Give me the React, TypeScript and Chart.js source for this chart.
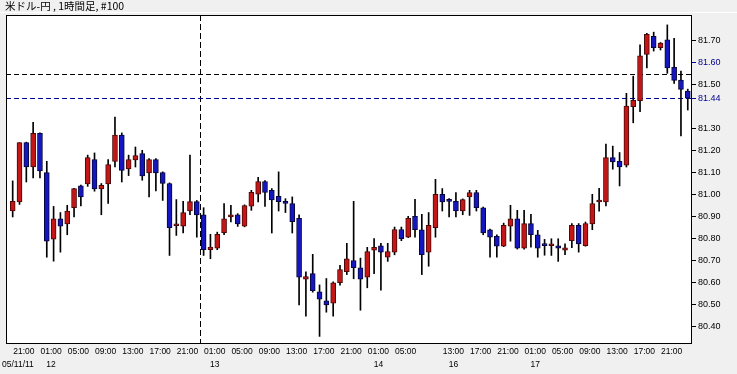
import React, { useEffect, useRef } from "react";
import { Chart, registerables } from "chart.js";

Chart.register(...registerables);

const title = "米ドル-円 , 1時間足, #100";
const startDateLabel = "05/11/11";

const opens = [
  80.927, 80.968, 81.238, 81.127, 81.28, 81.102, 80.799, 80.892, 80.868, 80.942,
  81.041, 81.05, 81.161, 81.027, 81.05, 81.152, 81.272, 81.118, 81.159, 81.188,
  81.1, 81.161, 81.102, 81.052, 80.86, 80.858, 80.927, 80.97, 80.91, 80.751,
  80.758, 80.828, 80.9, 80.91, 80.858, 80.949, 81.003, 81.061, 81.021, 80.994,
  80.971, 80.961, 80.894, 80.617, 80.642, 80.56, 80.519, 80.508, 80.601, 80.651,
  80.702, 80.669, 80.626, 80.749, 80.769, 80.717, 80.74, 80.843, 80.808, 80.903,
  80.842, 80.74, 80.851, 81.003, 80.972, 80.971, 80.927, 80.991, 81.011, 80.942,
  80.842, 80.812, 80.767, 80.858, 80.892, 80.758, 80.87, 80.819, 80.771, 80.769,
  80.769, 80.749, 80.792, 80.862, 80.769, 80.868, 80.968, 80.968, 81.17, 81.153,
  81.135, 81.401, 81.428, 81.639, 81.721, 81.67, 81.705, 81.58, 81.522, 81.472,
];
const highs = [
  81.064, 81.238, 81.24, 81.33, 81.282, 81.153, 80.948, 80.92, 80.953, 81.03,
  81.045, 81.181, 81.191, 81.052, 81.161, 81.354, 81.282, 81.181, 81.218, 81.203,
  81.165, 81.165, 81.105, 81.055, 80.979, 80.971, 81.181, 80.975, 80.942, 80.821,
  80.831, 80.961, 80.953, 80.915, 80.955, 81.021, 81.08, 81.065, 81.029, 81.105,
  80.983, 80.991, 80.91, 80.651, 80.73, 80.591, 80.62, 80.605, 80.68, 80.78,
  80.971, 80.713, 80.762, 80.802, 80.78, 80.78, 80.854, 80.854, 80.903, 80.98,
  80.912, 80.92, 81.071, 81.029, 80.983, 81.011, 80.982, 81.021, 81.021, 80.945,
  80.845, 80.819, 80.872, 80.953, 80.93, 80.93, 80.912, 80.839, 80.798, 80.801,
  80.801, 80.778, 80.87, 80.87, 80.877, 81.003, 81.03, 81.231, 81.222, 81.193,
  81.462, 81.54, 81.682, 81.735, 81.74, 81.693, 81.773, 81.712, 81.563, 81.481,
];
const lows = [
  80.9, 80.957, 81.059, 81.077, 81.077, 80.717, 80.699, 80.74, 80.819, 80.9,
  80.95, 81.039, 81.017, 80.91, 80.961, 81.127, 81.059, 81.088, 81.127, 81.067,
  80.991, 81.018, 80.975, 80.725, 80.816, 80.827, 80.91, 80.808, 80.725, 80.71,
  80.751, 80.819, 80.877, 80.857, 80.855, 80.93, 80.968, 80.948, 80.827, 80.927,
  80.92, 80.827, 80.5, 80.449, 80.558, 80.357, 80.467, 80.449, 80.59, 80.638,
  80.619, 80.476, 80.578, 80.642, 80.567, 80.698, 80.728, 80.792, 80.806, 80.808,
  80.638, 80.676, 80.808, 80.927, 80.9, 80.9, 80.91, 80.907, 80.927, 80.819,
  80.717, 80.717, 80.765, 80.79, 80.754, 80.754, 80.763, 80.717, 80.726, 80.725,
  80.698, 80.728, 80.76, 80.74, 80.767, 80.842, 80.926, 80.95, 81.117, 81.041,
  81.127, 81.328, 81.378, 81.578, 81.654, 81.659, 81.553, 81.507, 81.268, 81.386,
];
const closes = [
  80.971, 81.238, 81.127, 81.28, 81.109, 80.79, 80.892, 80.858, 80.927, 81.029,
  80.991, 81.17, 81.027, 81.044, 81.138, 81.272, 81.112, 81.161, 81.179, 81.086,
  81.161, 81.1, 81.052, 80.851, 80.862, 80.92, 80.97, 80.909, 80.751, 80.763,
  80.821, 80.892, 80.91, 80.868, 80.952, 81.012, 81.061, 81.011, 80.977, 80.97,
  80.961, 80.879, 80.626, 80.629, 80.565, 80.526, 80.5, 80.601, 80.661, 80.71,
  80.669, 80.617, 80.743, 80.762, 80.74, 80.743, 80.843, 80.801, 80.894, 80.842,
  80.728, 80.862, 81.003, 80.968, 80.971, 80.927, 80.979, 81.011, 80.942, 80.827,
  80.808, 80.767, 80.862, 80.892, 80.758, 80.87, 80.819, 80.758, 80.77, 80.769,
  80.758, 80.76, 80.862, 80.777, 80.87, 80.961, 80.975, 81.17, 81.15, 81.127,
  81.404, 81.43, 81.632, 81.73, 81.67, 81.69, 81.578, 81.521, 81.48, 81.44,
];

// trading sessions: day label, first hour, number of hourly bars
const sessionDays = ["11", "12", "13", "14", "16", "17"];
const sessionStartHours = [19, 0, 0, 0, 10, 0];
const sessionBarCounts = [5, 24, 24, 9, 14, 24];
const labelHours = [1, 5, 9, 13, 17, 21];

const yTickValues = [80.4, 80.5, 80.6, 80.7, 80.8, 80.9, 81.0, 81.1, 81.2, 81.3, 81.44, 81.5, 81.6, 81.7];
const yHighlightTicks = [81.44, 81.6];
const crosshairIndex = 27.5;
const crosshairPrice = 81.55;
const currentPrice = 81.44;

const UP_FILL = "#c41616";
const UP_BORDER = "#4a0808";
const DOWN_FILL = "#1616c0";
const DOWN_BORDER = "#06063a";
const NAVY = "#000090";
const FONT = "'Liberation Sans', Arial, sans-serif";

const barDay: string[] = [];
const barHour: number[] = [];
sessionDays.forEach((d, s) => {
  for (let k = 0; k < sessionBarCounts[s]; k++) {
    barDay.push(d);
    barHour.push(sessionStartHours[s] + k);
  }
});

const tickIdx: number[] = [];
const tickText: Record<number, string[]> = {};
const seenDays = new Set<string>();
barHour.forEach((h, i) => {
  if (labelHours.includes(h)) {
    tickIdx.push(i);
    const t = (h < 10 ? "0" : "") + h + ":00";
    const d = barDay[i];
    let second = "";
    if (!seenDays.has(d)) {
      seenDays.add(d);
      if (d !== sessionDays[0]) second = d;
    }
    tickText[i] = [t, second];
  }
});

const decor = {
  id: "decor",
  beforeDraw(chart: any) {
    const { ctx, chartArea: a } = chart;
    ctx.save();
    ctx.fillStyle = "#f0f0f0";
    ctx.fillRect(0, 0, chart.width, chart.height);
    ctx.fillStyle = "#ffffff";
    ctx.fillRect(0, 12, chart.width, 1);
    ctx.fillRect(a.left, a.top, a.right - a.left, a.bottom - a.top);
    ctx.fillStyle = "#000";
    ctx.font = "10.5px 'Noto Sans CJK JP', sans-serif";
    ctx.textBaseline = "middle";
    ctx.textAlign = "left";
    ctx.fillText(title, 5, 6.5);
    ctx.restore();
  },
  beforeDatasetsDraw(chart: any) {
    const { ctx, chartArea: a, scales } = chart;
    ctx.save();
    ctx.lineWidth = 1;
    ctx.setLineDash([5, 3]);
    const yc = Math.round(scales.y.getPixelForValue(crosshairPrice)) + 0.5;
    ctx.strokeStyle = "#000";
    ctx.beginPath();
    ctx.moveTo(a.left, yc);
    ctx.lineTo(a.right, yc);
    ctx.stroke();
    const xc = Math.round(scales.x.getPixelForValue(crosshairIndex)) + 0.5;
    ctx.setLineDash([6, 3]);
    ctx.beginPath();
    ctx.moveTo(xc, a.top);
    ctx.lineTo(xc, a.bottom);
    ctx.stroke();
    ctx.setLineDash([5, 3]);
    const yp = Math.round(scales.y.getPixelForValue(currentPrice)) + 0.5;
    ctx.strokeStyle = NAVY;
    ctx.beginPath();
    ctx.moveTo(a.left, yp);
    ctx.lineTo(a.right, yp);
    ctx.stroke();
    ctx.restore();
  },
  afterDraw(chart: any) {
    const { ctx, chartArea: a } = chart;
    ctx.save();
    ctx.strokeStyle = "#000";
    ctx.lineWidth = 1;
    ctx.strokeRect(a.left + 0.5, a.top + 0.5, a.right - a.left - 1, a.bottom - a.top);
    ctx.fillStyle = "#000";
    ctx.font = `8.5px ${FONT}`;
    ctx.textBaseline = "middle";
    ctx.textAlign = "left";
    ctx.fillText(startDateLabel, 2, a.bottom + 22);
    ctx.restore();
  },
};

export default function App() {
  const ref = useRef<HTMLCanvasElement | null>(null);
  useEffect(() => {
    if (!ref.current) return;
    const idx = opens.map((_, i) => i);
    const up = idx.map((i) => closes[i] >= opens[i]);
    const chart = new Chart(ref.current, {
      type: "bar",
      data: {
        datasets: [
          {
            data: idx.map((i) => ({ x: i, y: [opens[i], closes[i]] })) as any,
            backgroundColor: up.map((u) => (u ? UP_FILL : DOWN_FILL)),
            borderColor: up.map((u) => (u ? UP_BORDER : DOWN_BORDER)),
            borderWidth: 1,
            borderSkipped: false,
            barThickness: 5,
            minBarLength: 2,
            grouped: false,
            order: 0,
          } as any,
          {
            data: idx.map((i) => ({ x: i, y: [lows[i], highs[i]] })) as any,
            backgroundColor: "#000",
            borderWidth: 0,
            barThickness: 1,
            grouped: false,
            order: 1,
          } as any,
        ],
      },
      options: {
        animation: false,
        responsive: false,
        devicePixelRatio: 1,
        layout: { padding: { left: 6, top: 15, right: 0, bottom: 0 } },
        plugins: { legend: { display: false }, tooltip: { enabled: false }, title: { display: false } },
        scales: {
          x: {
            type: "linear",
            offset: false,
            min: -0.98,
            max: 99.62,
            grid: { display: false },
            border: { display: false },
            afterBuildTicks: (s: any) => {
              s.ticks = tickIdx.map((v) => ({ value: v }));
            },
            afterFit: (s: any) => {
              s.height = 31;
            },
            ticks: {
              autoSkip: false,
              maxRotation: 0,
              minRotation: 0,
              padding: -6,
              labelOffset: -2.5,
              color: "#000",
              font: { family: FONT, size: 8.5, lineHeight: 1.55 },
              callback: (v: any) => tickText[Math.round(Number(v))] || "",
            },
          },
          y: {
            position: "right",
            min: 80.327,
            max: 81.818,
            grid: {
              drawOnChartArea: false,
              drawTicks: true,
              tickLength: 4,
              color: (c: any) =>
                yHighlightTicks.some((v) => c.tick && Math.abs(v - c.tick.value) < 1e-6) ? NAVY : "#000",
            },
            border: { display: false },
            afterBuildTicks: (s: any) => {
              s.ticks = yTickValues.map((v) => ({ value: v }));
            },
            afterFit: (s: any) => {
              s.width = 45;
            },
            ticks: {
              padding: 2,
              color: (c: any) =>
                yHighlightTicks.some((v) => c.tick && Math.abs(v - c.tick.value) < 1e-6) ? NAVY : "#000",
              font: { family: FONT, size: 9 },
              callback: (v: any) => Number(v).toFixed(2),
            },
          },
        },
      } as any,
      plugins: [decor],
    });
    return () => chart.destroy();
  }, []);
  return (
    <div style={{ position: "fixed", left: 0, top: 0, width: 737, height: 374, background: "#f0f0f0" }}>
      <canvas ref={ref} width={737} height={374} style={{ width: 737, height: 374, display: "block" }} />
    </div>
  );
}
